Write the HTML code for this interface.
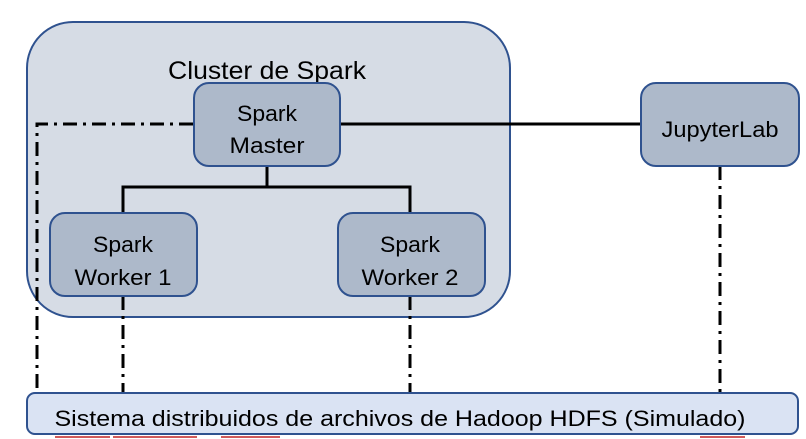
<!DOCTYPE html>
<html><head><meta charset="utf-8"><style>
html,body{margin:0;padding:0;background:#fff;width:806px;height:439px;overflow:hidden}
text{font-family:"Liberation Sans",sans-serif;fill:#000}
</style></head><body>
<svg width="806" height="439" viewBox="0 0 806 439" xmlns="http://www.w3.org/2000/svg">
<rect x="27" y="22" width="483" height="295" rx="46" fill="#d6dce5" stroke="#2f528f" stroke-width="2"/>
<text x="267" y="79" font-size="25" text-anchor="middle" textLength="198" lengthAdjust="spacingAndGlyphs">Cluster de Spark</text>
<g stroke="#000" stroke-width="3" fill="none">
<line x1="340" y1="124" x2="641" y2="124"/>
<polyline points="267,166 267,187 123,187 123,213"/>
<polyline points="267,187 410,187 410,213"/>
</g>
<g stroke="#000" stroke-width="3" fill="none" stroke-dasharray="14,6,3,6">
<polyline points="193,124 37,124 37,393"/>
<line x1="123" y1="296" x2="123" y2="393"/>
<line x1="410" y1="296" x2="410" y2="393"/>
<line x1="720" y1="166" x2="720" y2="393"/>
</g>
<g fill="#adb9ca" stroke="#2f528f" stroke-width="2">
<rect x="194" y="83" width="146" height="83" rx="15"/>
<rect x="50" y="213" width="147" height="83" rx="15"/>
<rect x="338" y="213" width="147" height="83" rx="15"/>
<rect x="641" y="83" width="158" height="83" rx="15"/>
</g>
<g font-size="22" text-anchor="middle" lengthAdjust="spacingAndGlyphs">
<text x="267" y="121" textLength="60" lengthAdjust="spacingAndGlyphs">Spark</text>
<text x="267" y="153" textLength="75" lengthAdjust="spacingAndGlyphs">Master</text>
<text x="123" y="252" textLength="60" lengthAdjust="spacingAndGlyphs">Spark</text>
<text x="123" y="285" textLength="97" lengthAdjust="spacingAndGlyphs">Worker 1</text>
<text x="410" y="252" textLength="60" lengthAdjust="spacingAndGlyphs">Spark</text>
<text x="410" y="285" textLength="97" lengthAdjust="spacingAndGlyphs">Worker 2</text>
<text x="720" y="137" textLength="117" lengthAdjust="spacingAndGlyphs">JupyterLab</text>
</g>
<rect x="27" y="393" width="771" height="41" rx="8" fill="#dae3f3" stroke="#2f528f" stroke-width="2"/>
<text x="400" y="426" font-size="22" text-anchor="middle" textLength="691" lengthAdjust="spacingAndGlyphs">Sistema distribuidos de archivos de Hadoop HDFS (Simulado)</text>
<g stroke="#d05a5a" stroke-width="2">
<line x1="55" y1="437" x2="110" y2="437"/>
<line x1="113" y1="437" x2="197" y2="437"/>
<line x1="221" y1="437" x2="280" y2="437"/>
<line x1="700" y1="437" x2="745" y2="437"/>
</g>
</svg>
</body></html>
